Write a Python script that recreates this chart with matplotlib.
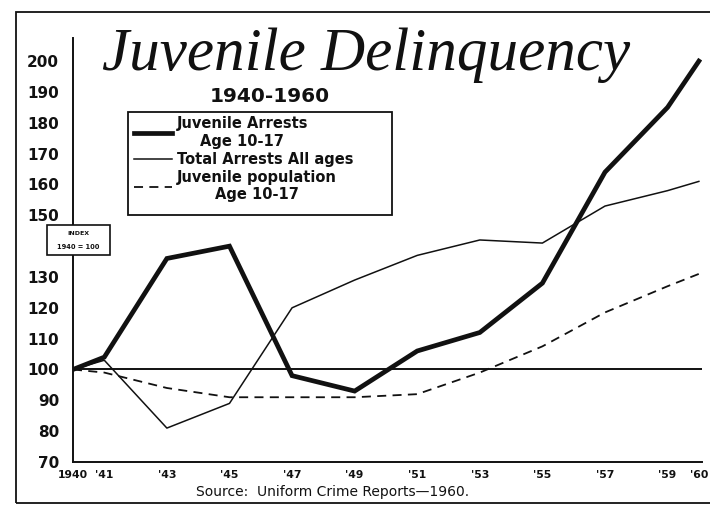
import matplotlib.pyplot as plt
from matplotlib.patches import Rectangle

# index values, 1940 = 100
years = [1940, 1941, 1943, 1945, 1947, 1949, 1951, 1953, 1955, 1957, 1959, 1960]
year_labels = ["1940", "'41", "'43", "'45", "'47", "'49", "'51", "'53", "'55", "'57", "'59", "'60"]
juvenile_arrests = [100, 104, 136, 140, 98, 93, 106, 112, 128, 164, 185, 200]
total_arrests = [100, 103, 81, 89, 120, 129, 137, 142, 141, 153, 158, 161]
juvenile_population = [100, 99, 94, 91, 91, 91, 92, 99, 107.5, 118.5, 127, 131]
index_base = 100

y_ticks = [70, 80, 90, 100, 110, 120, 130, 150, 160, 170, 180, 190, 200]

INK = "#111111"
BOLD = dict(family="DejaVu Sans", fontweight="bold", color=INK)


def px(x, y):
    """pixel position (from top-left) -> figure fraction"""
    return x / 710, 1 - y / 515


fig = plt.figure(figsize=(7.1, 5.15), dpi=100)
fig.patch.set_facecolor("white")

# outer frame of the plate (right edge runs off the page)
fig.patches.append(Rectangle(px(16, 503), 1.2, 491 / 515, transform=fig.transFigure,
                             fill=False, edgecolor=INK, linewidth=1.3, clip_on=False))

ax = fig.add_axes([73 / 710, 53 / 515, 629 / 710, 424 / 515])
ax.set_xlim(1940, 1960.1)
ax.set_ylim(70, 207.5)

ax.axhline(index_base, color=INK, linewidth=1.4, zorder=2)
l1, = ax.plot(years, juvenile_arrests, color=INK, linewidth=3.4, zorder=4,
              solid_joinstyle="miter", label="Juvenile Arrests\nAge 10-17")
l2, = ax.plot(years, total_arrests, color=INK, linewidth=1.1, zorder=3,
              label="Total Arrests All ages")
l3, = ax.plot(years, juvenile_population, color=INK, linewidth=1.3, zorder=3,
              dashes=(5, 3.5), label="Juvenile population\nAge 10-17")

for side in ["top", "right"]:
    ax.spines[side].set_visible(False)
for side in ["left", "bottom"]:
    ax.spines[side].set_linewidth(1.4)
    ax.spines[side].set_color(INK)

ax.set_yticks(y_ticks)
ax.set_yticklabels([str(v) for v in y_ticks], fontsize=11, **BOLD)
ax.set_xticks(years)
ax.set_xticklabels(year_labels, fontsize=7.8, **BOLD)
ax.tick_params(axis="y", length=0, pad=10)
ax.tick_params(axis="x", length=0, pad=6)

# legend box is drawn by hand so it keeps the wide right margin
fig.patches.append(Rectangle(px(128, 215), 264 / 710, 103 / 515, transform=fig.transFigure,
                             fill=False, edgecolor=INK, linewidth=1.3, zorder=5))
leg = ax.legend(handles=[l1, l2, l3], loc="upper left",
                bbox_to_anchor=px(130, 112), bbox_transform=fig.transFigure,
                frameon=False, prop=dict(family="DejaVu Sans", weight="bold", size=10.5),
                handlelength=2.6, handletextpad=0.3, labelspacing=0.2,
                borderpad=0.3, borderaxespad=0)
for t in leg.get_texts():
    t.set_multialignment("center")
    t.set_color(INK)

# small "INDEX" box sitting on the y axis where 140 would be
fig.patches.append(Rectangle(px(47, 255), 63 / 710, 30 / 515,
                             transform=fig.transFigure, facecolor="white",
                             edgecolor=INK, linewidth=1.2, zorder=5))
fig.text(*px(78.5, 233), "INDEX", fontsize=4.5, ha="center", va="center", zorder=6, **BOLD)
fig.text(*px(78.5, 247), "1940 = 100", fontsize=4.8, ha="center", va="center", zorder=6, **BOLD)

fig.text(*px(366, 70), "Juvenile Delinquency", family="Liberation Serif",
         style="italic", fontsize=44, ha="center", va="baseline", color=INK)
fig.text(*px(270, 96), "1940-1960", fontsize=14.5, ha="center", va="center", **BOLD)

fig.text(*px(333, 492), "Source:  Uniform Crime Reports\u20141960.",
         family="DejaVu Sans", fontsize=10, ha="center", va="center", color=INK)

fig.savefig("out.png", dpi=100, facecolor="white")
